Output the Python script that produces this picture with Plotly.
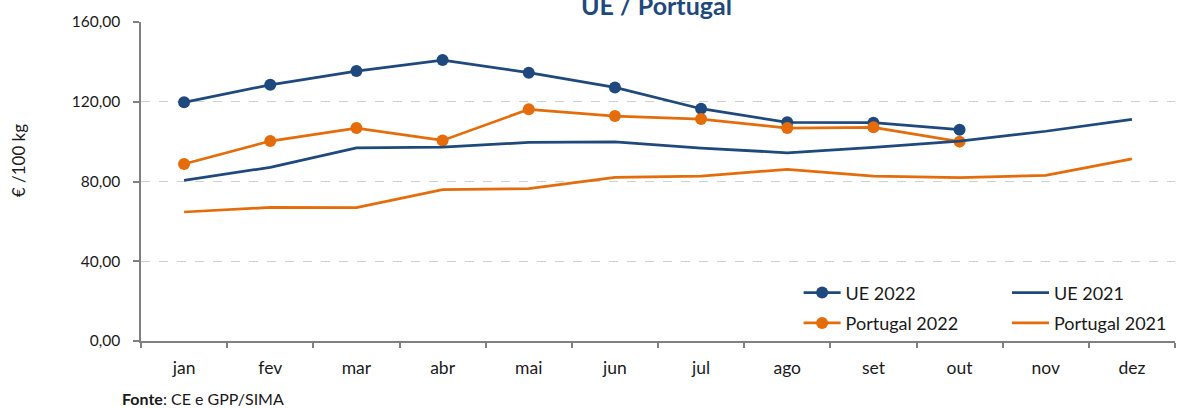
import plotly.graph_objects as go

months = ["jan", "fev", "mar", "abr", "mai", "jun", "jul", "ago", "set", "out", "nov", "dez"]
ue_2022 = [119.7, 128.5, 135.4, 140.9, 134.6, 127.2, 116.5, 109.7, 109.5, 106.0]
ue_2021 = [80.6, 87.1, 96.9, 97.3, 99.6, 99.9, 96.8, 94.4, 97.1, 100.3, 105.2, 111.2]
pt_2022 = [88.8, 100.3, 106.8, 100.6, 116.2, 112.8, 111.3, 106.8, 107.2, 100.0]
pt_2021 = [64.7, 67.0, 66.9, 75.9, 76.4, 82.1, 82.7, 86.1, 82.7, 81.9, 83.1, 91.3]
y_ticks = [0, 40, 80, 120, 160]

BLUE = "#1F497D"
ORANGE = "#E46C0A"
FONT = "Lato"
TXT = "#1a1a1a"

fig = go.Figure()
fig.add_trace(go.Scatter(x=months[:len(ue_2022)], y=ue_2022, name="UE 2022", mode="lines+markers",
                         line=dict(color=BLUE, width=2.75), marker=dict(size=12, color=BLUE),
                         legend="legend", legendgroup="a"))
fig.add_trace(go.Scatter(x=months[:len(pt_2022)], y=pt_2022, name="Portugal 2022", mode="lines+markers",
                         line=dict(color=ORANGE, width=2.75), marker=dict(size=12, color=ORANGE),
                         legend="legend", legendgroup="b"))
fig.add_trace(go.Scatter(x=months, y=ue_2021, name="UE 2021", mode="lines",
                         line=dict(color=BLUE, width=2.75),
                         legend="legend2", legendgroup="c"))
fig.add_trace(go.Scatter(x=months, y=pt_2021, name="Portugal 2021", mode="lines",
                         line=dict(color=ORANGE, width=2.75),
                         legend="legend2", legendgroup="d"))

legend_common = dict(
    font=dict(family=FONT, size=18, color=TXT),
    itemwidth=37, tracegroupgap=4, bgcolor="rgba(0,0,0,0)",
    yanchor="top", xanchor="left", orientation="v",
)

fig.update_layout(
    width=1181, height=408,
    margin=dict(l=141, r=6, t=22, b=67),
    paper_bgcolor="white", plot_bgcolor="white",
    font=dict(family=FONT, size=17, color=TXT),
    separators=",.",
    title=dict(text="<b>UE / Portugal</b>", x=0.4985, xref="paper", xanchor="center",
               y=0.985, yanchor="middle", font=dict(family=FONT, size=25, color=BLUE)),
    showlegend=True,
    legend=dict(x=0.636, y=0.2088, **legend_common),
    legend2=dict(x=0.8375, y=0.2088, **legend_common),
    xaxis=dict(
        type="category", categoryorder="array", categoryarray=months,
        range=[-0.5, 11.5], showgrid=False, tickson="boundaries",
        ticks="outside", ticklen=5, tickcolor="#808080", tickwidth=1.5,
        showline=True, linecolor="#808080", linewidth=1.5,
        ticklabelstandoff=10, tickfont=dict(family=FONT, size=17.5, color=TXT),
    ),
    yaxis=dict(
        range=[0, 160], tickvals=y_ticks, tickformat=".2f",
        showgrid=True, gridcolor="#D0D0D0", griddash="dash", gridwidth=1,
        zeroline=False, ticks="outside", ticklen=6, tickcolor="#808080", tickwidth=1.5,
        showline=True, linecolor="#808080", linewidth=1.5,
        ticklabelstandoff=10, tickfont=dict(family=FONT, size=15.5, color=TXT),
    ),
    annotations=[
        dict(text="€ /100 kg", xref="paper", yref="paper", x=-0.1185, y=0.565,
             xanchor="center", yanchor="middle", textangle=-90, showarrow=False,
             font=dict(family=FONT, size=17, color=TXT)),
        dict(text="<b>Fonte</b>: CE e GPP/SIMA", xref="paper", yref="paper", x=-0.0203, y=-0.18,
             xanchor="left", yanchor="middle", showarrow=False,
             font=dict(family=FONT, size=16, color=TXT)),
    ],
)

fig.write_html("out.html", config={"displayModeBar": False},
               post_script="document.body.style.margin='0';document.body.style.overflow='hidden';")
